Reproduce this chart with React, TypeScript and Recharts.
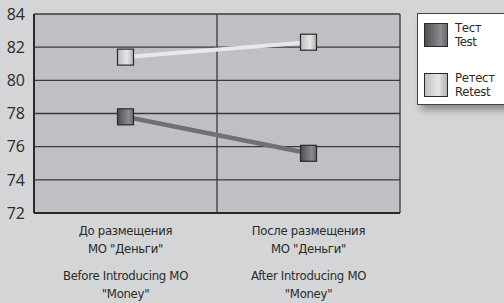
import React from "react";
import { LineChart, Line, CartesianGrid, XAxis, YAxis } from "recharts";

// categories (ru / en)
const categoriesRu = [
  ["До размещения", 'МО "Деньги"'],
  ["После размещения", 'МО "Деньги"'],
];
const categoriesEn = [
  ["Before Introducing MO", '"Money"'],
  ["After Introducing MO", '"Money"'],
];
const testValues = [77.8, 75.6];
const retestValues = [81.4, 82.3];
const yTicks = [72, 74, 76, 78, 80, 82, 84];

const seriesInfo = [
  { key: "test", ru: "Тест", en: "Test", grad: "gradTest" },
  { key: "retest", ru: "Ретест", en: "Retest", grad: "gradRetest" },
];

const data = categoriesRu.map((c, i) => ({
  name: String(i),
  test: testValues[i],
  retest: retestValues[i],
}));

const narrow = "'Liberation Sans Narrow', 'DejaVu Sans Condensed', 'Arial Narrow', sans-serif";

const gradStops = (key: string) =>
  key === "test" ? (
    <>
      <stop offset="0" stopColor="#4e4e52" />
      <stop offset="0.7" stopColor="#8c8c90" />
      <stop offset="1" stopColor="#66666a" />
    </>
  ) : (
    <>
      <stop offset="0" stopColor="#bdbdc0" />
      <stop offset="0.6" stopColor="#e6e6e8" />
      <stop offset="1" stopColor="#b0b0b2" />
    </>
  );

const SquareDot = (props: any) => {
  const { cx, cy, fill } = props;
  if (cx == null || cy == null) return null;
  return (
    <rect
      x={cx - 8}
      y={cy - 8}
      width={16}
      height={16}
      fill={fill}
      stroke="#2a2a2c"
      strokeWidth={1.2}
    />
  );
};

const XTick = (props: any) => {
  const { x, y, payload } = props;
  const i = Number(payload.value);
  const ru = categoriesRu[i];
  const en = categoriesEn[i];
  return (
    <g>
      <text
        textAnchor="middle"
        fontFamily={narrow}
        fontSize={13}
        fill="#2a2a2a"
        style={{ letterSpacing: "-0.3px" }}
      >
        <tspan x={x} y={y + 14}>{ru[0]}</tspan>
        <tspan x={x} y={y + 32}>{ru[1]}</tspan>
        <tspan x={x} y={y + 59}>{en[0]}</tspan>
        <tspan x={x} y={y + 77}>{en[1]}</tspan>
      </text>
    </g>
  );
};

const LegendBox = () => (
  <div
    style={{
      position: "absolute",
      left: 417,
      top: 13,
      background: "#ffffff",
      border: "1px solid #444",
      boxShadow: "4px 5px 7px rgba(0,0,0,0.35)",
      width: 100,
      height: 92,
      boxSizing: "border-box",
      padding: "7px 0 0 6px",
      fontFamily: narrow,
      fontSize: 13,
      lineHeight: "14px",
      letterSpacing: "-0.3px",
      color: "#2a2a2a",
    }}
  >
    {seriesInfo.map((s, i) => (
      <div
        key={s.key}
        style={{ display: "flex", alignItems: "center", marginBottom: i === 0 ? 22 : 0 }}
      >
        <svg width={24} height={24} style={{ flex: "none" }}>
          <defs>
            <linearGradient id={s.grad + "L"} x1="0" y1="0" x2="1" y2="0">
              {gradStops(s.key)}
            </linearGradient>
          </defs>
          <rect x={0.5} y={0.5} width={23} height={23} fill={`url(#${s.grad}L)`} stroke="#2a2a2c" />
        </svg>
        <div style={{ marginLeft: 7 }}>
          <div>{s.ru}</div>
          <div>{s.en}</div>
        </div>
      </div>
    ))}
  </div>
);

export default function App() {
  return (
    <div
      style={{
        position: "absolute",
        left: 0,
        top: 0,
        width: 504,
        height: 303,
        overflow: "hidden",
        background: "#d4d5d7",
      }}
    >
      <LineChart
        width={504}
        height={303}
        data={data}
        margin={{ top: 14, right: 104, bottom: 0, left: 0 }}
      >
        <defs>
          <linearGradient id="gradTest" x1="0" y1="0" x2="1" y2="0">
            {gradStops("test")}
          </linearGradient>
          <linearGradient id="gradRetest" x1="0" y1="0" x2="1" y2="0">
            {gradStops("retest")}
          </linearGradient>
        </defs>
        <CartesianGrid
          fill="#bfc0c4"
          stroke="#3a3a3c"
          strokeWidth={1.3}
          verticalCoordinatesGenerator={({ offset }: any) => [
            offset.left + offset.width / 2,
            offset.left + offset.width,
          ]}
        />
        <XAxis
          dataKey="name"
          scale="band"
          height={90}
          axisLine={{ stroke: "#2a2a2c", strokeWidth: 2 }}
          tickLine={false}
          tick={<XTick />}
          interval={0}
        />
        <YAxis
          width={34}
          domain={[72, 84]}
          ticks={yTicks}
          axisLine={{ stroke: "#2a2a2c", strokeWidth: 2 }}
          tickLine={false}
          tick={{ fill: "#2a2a2a", fontSize: 16, fontFamily: "'Open Sans', sans-serif" }}
          tickMargin={3}
        />
        <Line
          dataKey="test"
          stroke="#707075"
          strokeWidth={4.5}
          dot={<SquareDot fill="url(#gradTest)" />}
          activeDot={false}
          isAnimationActive={false}
        />
        <Line
          dataKey="retest"
          stroke="#e8e8ea"
          strokeWidth={4}
          dot={<SquareDot fill="url(#gradRetest)" />}
          activeDot={false}
          isAnimationActive={false}
        />
      </LineChart>
      <LegendBox />
    </div>
  );
}
